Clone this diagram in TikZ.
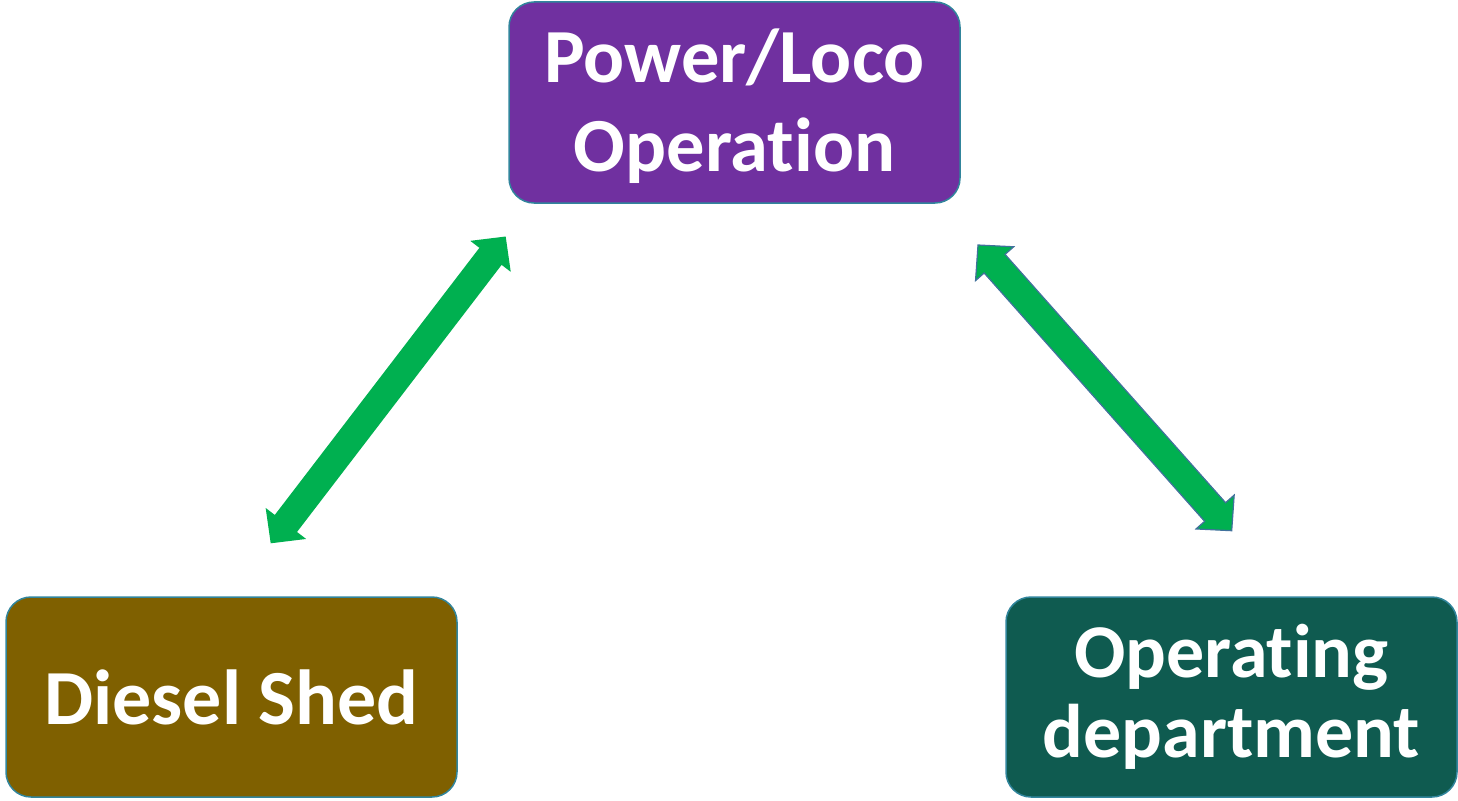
\documentclass[tikz,border=0pt]{standalone}
\usepackage{fontspec}
\setmainfont{Carlito}[Ligatures={NoCommon,NoRare,NoContextual}]
\usetikzlibrary{calc}
\definecolor{boxborder}{HTML}{31859C}
\definecolor{purplebox}{HTML}{7030A0}
\definecolor{brownbox}{HTML}{7F6000}
\definecolor{tealbox}{HTML}{0F5B50}
\definecolor{arrowgreen}{HTML}{00B050}
\definecolor{arrowedge}{HTML}{41719C}
\newcommand{\dblarrow}[3]{%
  \coordinate (#1-h) at ($(#1)!25pt!(#2)$);
  \coordinate (#2-h) at ($(#2)!25pt!(#1)$);
  \filldraw[#3] (#1) -- ($(#1-h)!25.5pt!90:(#2)$) -- ($(#1-h)!14pt!90:(#2)$)
    -- ($(#2-h)!14pt!-90:(#1)$) -- ($(#2-h)!25.5pt!-90:(#1)$) -- (#2)
    -- ($(#2-h)!25.5pt!90:(#1)$) -- ($(#2-h)!14pt!90:(#1)$)
    -- ($(#1-h)!14pt!-90:(#2)$) -- ($(#1-h)!25.5pt!-90:(#2)$) -- cycle;}
\newcommand{\padtop}[2]{\raisebox{0pt}[\dimexpr\height+#1\relax]{#2}}
\tikzset{
  box/.style={draw=boxborder, line width=1.5pt, rounded corners=25pt,
    minimum width=451pt, minimum height=200pt, align=center,
    text=white, font=\bfseries},
  arrowA/.style={fill=arrowgreen, draw=none},
  arrowB/.style={fill=arrowgreen, draw=arrowedge, line width=1.2pt, line join=miter},
}
\begin{document}
\begin{tikzpicture}[x=1pt,y=-1pt]
\useasboundingbox (0,0) rectangle (1458,800);
\node[box, fill=purplebox, minimum height=201pt, font=\bfseries\fontsize{76.5}{89}\selectfont] (power) at (734.5,102.5) {\padtop{8pt}{Power/Loco}\\Operation};
\node[box, fill=brownbox, font=\bfseries\fontsize{78}{80}\selectfont] (diesel) at (231.5,697) {Diesel Shed};
\node[box, fill=tealbox, font=\bfseries\fontsize{76}{80}\selectfont] (operating) at (1231.5,697) {Operating\\department};
\coordinate (l1) at (270.7,543.3);
\coordinate (l2) at (505.7,236.5);
\coordinate (r1) at (978,245);
\coordinate (r2) at (1231.7,530.7);
\dblarrow{l1}{l2}{arrowA}
\dblarrow{r1}{r2}{arrowB}
\end{tikzpicture}
\end{document}
